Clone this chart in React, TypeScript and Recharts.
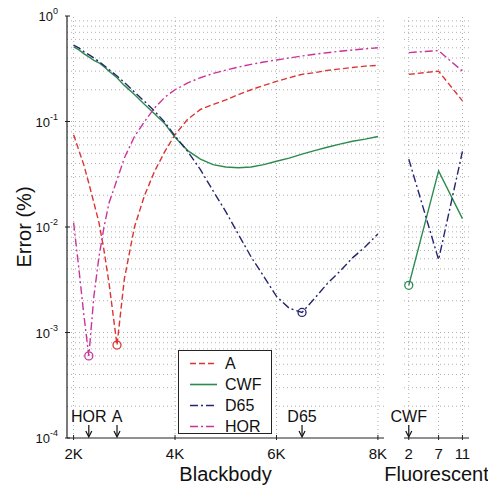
import React from "react";
import {
  Legend,
  Line,
  LineChart,
  ReferenceDot,
  ReferenceLine,
  XAxis,
  YAxis,
} from "recharts";

// blackbody temperature (K)
const temps = [
  2000, 2100, 2200, 2300, 2400, 2500, 2600, 2700, 2856, 3000, 3200, 3400, 3600,
  3800, 4000, 4250, 4500, 4750, 5000, 5250, 5500, 5750, 6000, 6250, 6504, 6750,
  7000, 7250, 7500, 7750, 8000,
];
const errA = [
  0.075, 0.054, 0.039, 0.026, 0.017, 0.011, 0.006, 0.0029, 0.00076, 0.0032,
  0.01, 0.02, 0.034, 0.052, 0.075, 0.105, 0.13, 0.145, 0.16, 0.18, 0.2, 0.22,
  0.24, 0.26, 0.28, 0.29, 0.305, 0.315, 0.325, 0.335, 0.34,
];
const errCWF = [
  0.51, 0.48, 0.44, 0.41, 0.38, 0.36, 0.33, 0.3, 0.26, 0.22, 0.18, 0.145,
  0.118, 0.095, 0.071, 0.053, 0.044, 0.039, 0.037, 0.0365, 0.037, 0.039, 0.042,
  0.045, 0.049, 0.053, 0.057, 0.061, 0.065, 0.068, 0.072,
];
const errD65 = [
  0.53, 0.5, 0.46, 0.43, 0.4, 0.37, 0.34, 0.31, 0.27, 0.235, 0.19, 0.155, 0.125,
  0.098, 0.073, 0.052, 0.035, 0.022, 0.014, 0.0085, 0.0052, 0.0034, 0.0022,
  0.0017, 0.00155, 0.0021, 0.0029, 0.0038, 0.0051, 0.0065, 0.0086,
];
const errHOR = [
  0.011, 0.0042, 0.0015, 0.0006, 0.0022, 0.0052, 0.01, 0.017, 0.028, 0.045,
  0.072, 0.1, 0.135, 0.17, 0.2, 0.232, 0.26, 0.285, 0.307, 0.328, 0.348, 0.366,
  0.383, 0.4, 0.418, 0.434, 0.449, 0.463, 0.476, 0.488, 0.5,
];

// fluorescent lamps F2, F7, F11
const lamps = [2, 7, 11];
const fluA = [0.28, 0.3, 0.157];
const fluCWF = [0.0028, 0.034, 0.012];
const fluD65 = [0.044, 0.0049, 0.052];
const fluHOR = [0.45, 0.47, 0.3];

const bbTicks = [2000, 4000, 6000, 8000];
const decades = [1e-4, 1e-3, 1e-2, 1e-1, 1];

// minima marked with circles + arrows
const bbMarks = [
  { name: "HOR", T: 2300 },
  { name: "A", T: 2856 },
  { name: "D65", T: 6504 },
];
const flMarks = [{ name: "CWF", F: 2 }];

const series = [
  { key: "A", color: "#dd3333", dash: "6 3" },
  { key: "CWF", color: "#2b8a4e", dash: undefined },
  { key: "D65", color: "#25256f", dash: "8 3 2 3" },
  { key: "HOR", color: "#cc3399", dash: "8 3 2 3" },
];

const bbData = temps.map((T, i) => ({
  T,
  A: errA[i],
  CWF: errCWF[i],
  D65: errD65[i],
  HOR: errHOR[i],
}));
const flData = lamps.map((F, i) => ({
  F,
  A: fluA[i],
  CWF: fluCWF[i],
  D65: fluD65[i],
  HOR: fluHOR[i],
}));

const gridLevels: number[] = [];
decades.slice(0, -1).forEach((d, k) => {
  for (let m = k === 0 ? 2 : 1; m < 10; m++) gridLevels.push(m * d);
});

const dotted = { stroke: "#b0b0b0", strokeDasharray: "1 3", strokeWidth: 1 };

const LogTick = (props: any) => {
  const { x, y, payload } = props;
  const exp = Math.round(Math.log10(payload.value));
  return (
    <g>
      <line x1={x} x2={x + 5} y1={y} y2={y} stroke="#222" />
      <text x={x - 7} y={y + 5} textAnchor="end" fontSize={13} fill="#111">
        10
        <tspan dy={-7} fontSize={9}>
          {exp}
        </tspan>
      </text>
    </g>
  );
};

const makeXTick = (fmt: (v: number) => string) => (props: any) => {
  const { x, y, payload } = props;
  return (
    <g>
      <line x1={x} x2={x} y1={y} y2={y - 5} stroke="#222" />
      <text x={x} y={y + 19} textAnchor="middle" fontSize={15} fill="#111">
        {fmt(payload.value)}
      </text>
    </g>
  );
};

const arrowShape = (label: string) => (p: any) => (
  <g>
    <text x={p.cx} y={p.cy - 16} textAnchor="middle" fontSize={16} fill="#111">
      {label}
    </text>
    <line x1={p.cx} x2={p.cx} y1={p.cy - 13} y2={p.cy - 2} stroke="#111" strokeWidth={1.2} />
    <path
      d={`M${p.cx - 3} ${p.cy - 7} L${p.cx} ${p.cy - 1} L${p.cx + 3} ${p.cy - 7}`}
      fill="none"
      stroke="#111"
      strokeWidth={1.2}
    />
  </g>
);

const yLabel = (props: any) => {
  const vb = props.viewBox || { x: 0, y: 16, height: 422 };
  const cx = vb.x + 24;
  const cy = vb.y + vb.height / 2;
  return (
    <text
      x={cx}
      y={cy}
      transform={`rotate(-90 ${cx} ${cy})`}
      textAnchor="middle"
      dominantBaseline="central"
      fontSize={20}
      fill="#111"
    >
      Error (%)
    </text>
  );
};

const LegendBox = () => (
  <div
    style={{
      width: 94,
      height: 84,
      border: "1px solid #222",
      background: "#fff",
      boxSizing: "border-box",
      paddingTop: 2,
    }}
  >
    {series.map((s) => (
      <div key={s.key} style={{ display: "flex", alignItems: "center", height: 21 }}>
        <svg width={46} height={21}>
          <line
            x1={11}
            x2={38}
            y1={10.5}
            y2={10.5}
            stroke={s.color}
            strokeWidth={1.6}
            strokeDasharray={s.dash}
          />
        </svg>
        <span style={{ fontSize: 16, color: "#111", lineHeight: "21px" }}>{s.key}</span>
      </div>
    ))}
  </div>
);

const App: React.FC = () => {
  return (
    <div
      style={{
        position: "relative",
        width: 496,
        height: 490,
        margin: "-8px 0 0 -8px",
        background: "#fff",
        fontFamily: "'Liberation Sans', Arial, sans-serif",
      }}
    >
      <div style={{ position: "absolute", left: 0, top: 0 }}>
        <LineChart
          width={400}
          height={490}
          data={bbData}
          margin={{ top: 16, right: 16, bottom: 0, left: 0 }}
        >
          <XAxis
            dataKey="T"
            type="number"
            domain={[1870, 8120]}
            ticks={bbTicks}
            allowDataOverflow
            height={52}
            tickSize={0}
            tickLine={false}
            tick={makeXTick((v) => `${v / 1000}K`)}
            axisLine={{ stroke: "#222", strokeWidth: 1.2 }}
            label={{ value: "Blackbody", position: "insideBottom", offset: 9, fontSize: 20, fill: "#111" }}
          />
          <XAxis
            xAxisId="top"
            orientation="top"
            type="number"
            domain={[1870, 8120]}
            height={0}
            tick={false}
            tickLine={false}
            axisLine={{ stroke: "#999" }}
          />
          <YAxis
            type="number"
            scale="log"
            domain={[1e-4, 1]}
            ticks={decades}
            allowDataOverflow
            width={67}
            tickSize={0}
            tickLine={false}
            tick={LogTick}
            axisLine={{ stroke: "#222", strokeWidth: 1.2 }}
            label={yLabel}
          />
          <YAxis
            yAxisId="right"
            orientation="right"
            type="number"
            scale="log"
            domain={[1e-4, 1]}
            width={0}
            tick={false}
            tickLine={false}
            axisLine={{ stroke: "#999" }}
          />
          {gridLevels.map((v) => (
            <ReferenceLine key={`h${v}`} y={v} {...dotted} />
          ))}
          {bbTicks.map((v) => (
            <ReferenceLine key={`v${v}`} x={v} {...dotted} />
          ))}
          {series.map((s) => (
            <Line
              key={s.key}
              dataKey={s.key}
              name={s.key}
              type="linear"
              stroke={s.color}
              strokeWidth={1.4}
              strokeDasharray={s.dash}
              dot={false}
              isAnimationActive={false}
            />
          ))}
          {bbMarks.map((m) => {
            const s = series.find((q) => q.key === m.name)!;
            const row = bbData.find((d) => d.T === m.T)!;
            return (
              <ReferenceDot
                key={`c${m.name}`}
                x={m.T}
                y={(row as any)[m.name]}
                r={4}
                fill="none"
                stroke={s.color}
                strokeWidth={1.3}
              />
            );
          })}
          {bbMarks.map((m) => (
            <ReferenceDot
              key={`a${m.name}`}
              x={m.T}
              y={decades[0]}
              ifOverflow="visible"
              shape={arrowShape(m.name)}
            />
          ))}
          <Legend
            layout="vertical"
            align="center"
            verticalAlign="middle"
            content={LegendBox}
            wrapperStyle={{ position: "absolute", left: 178, top: 350, width: 94, height: 84 }}
          />
        </LineChart>
      </div>
      <div style={{ position: "absolute", left: 380, top: 0 }}>
        <LineChart
          width={116}
          height={490}
          data={flData}
          margin={{ top: 16, right: 27, bottom: 0, left: 24 }}
        >
          <XAxis
            dataKey="F"
            type="number"
            domain={[1.2, 12.1]}
            ticks={lamps}
            allowDataOverflow
            height={52}
            tickSize={0}
            tickLine={false}
            tick={makeXTick((v) => `${v}`)}
            axisLine={{ stroke: "#222", strokeWidth: 1.2 }}
            label={{ value: "Fluorescent", position: "insideBottom", offset: 9, fontSize: 20, fill: "#111" }}
          />
          <XAxis
            xAxisId="top"
            orientation="top"
            type="number"
            domain={[1.2, 12.1]}
            height={0}
            tick={false}
            tickLine={false}
            axisLine={{ stroke: "#999" }}
          />
          <YAxis
            type="number"
            scale="log"
            domain={[1e-4, 1]}
            ticks={decades}
            allowDataOverflow
            width={0}
            tick={false}
            tickLine={false}
            axisLine={{ stroke: "#222", strokeWidth: 1.2 }}
          />
          <YAxis
            yAxisId="right"
            orientation="right"
            type="number"
            scale="log"
            domain={[1e-4, 1]}
            width={0}
            tick={false}
            tickLine={false}
            axisLine={{ stroke: "#999" }}
          />
          {gridLevels.map((v) => (
            <ReferenceLine key={`h${v}`} y={v} {...dotted} />
          ))}
          {lamps.map((v) => (
            <ReferenceLine key={`v${v}`} x={v} {...dotted} />
          ))}
          {series.map((s) => (
            <Line
              key={s.key}
              dataKey={s.key}
              type="linear"
              stroke={s.color}
              strokeWidth={1.4}
              strokeDasharray={s.dash}
              dot={false}
              isAnimationActive={false}
            />
          ))}
          {flMarks.map((m) => {
            const s = series.find((q) => q.key === m.name)!;
            const row = flData.find((d) => d.F === m.F)!;
            return (
              <ReferenceDot
                key={`c${m.name}`}
                x={m.F}
                y={(row as any)[m.name]}
                r={4}
                fill="none"
                stroke={s.color}
                strokeWidth={1.3}
              />
            );
          })}
          {flMarks.map((m) => (
            <ReferenceDot
              key={`a${m.name}`}
              x={m.F}
              y={decades[0]}
              ifOverflow="visible"
              shape={arrowShape(m.name)}
            />
          ))}
        </LineChart>
      </div>
    </div>
  );
};

export default App;
